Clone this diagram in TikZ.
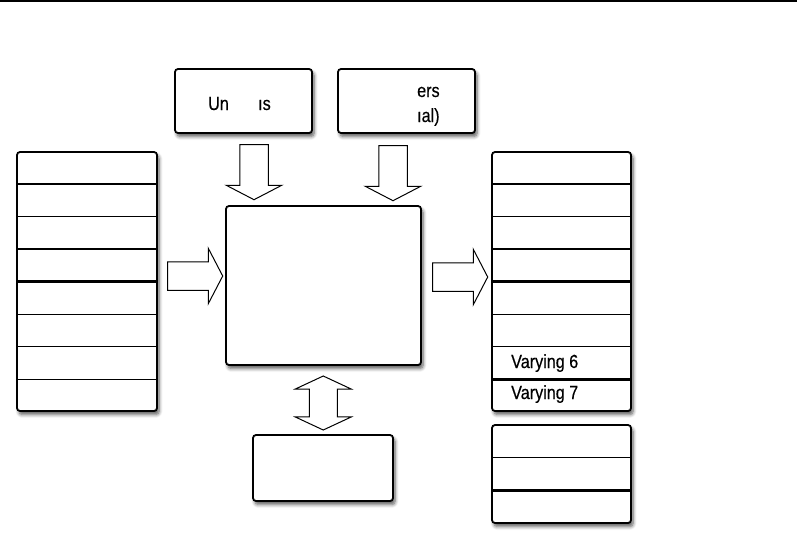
\documentclass[tikz,border=0pt]{standalone}
\usepackage{fontspec}
\setmainfont{Liberation Sans}
\newfontfamily\narrowfont[FakeStretch=0.85,FakeBold=0.4]{Liberation Sans}
\usepackage{tikz}
\usetikzlibrary{shapes.arrows,shadows.blur,calc}

\tikzset{
  box/.style={draw, line width=1.8pt, rounded corners=3pt, fill=white, inner sep=0pt,
    blur shadow={shadow blur steps=6, shadow xshift=2pt, shadow yshift=-3.5pt, shadow opacity=65, shadow blur radius=3.5pt}},
  blockarrow/.style={single arrow, draw, line width=1pt, fill=white, inner sep=13.75pt,
    minimum height=55pt, single arrow head extend=13.5pt, single arrow tip angle=125},
  bothways/.style={double arrow, draw, line width=1pt, fill=white, inner sep=13.5pt,
    minimum height=54pt, double arrow head extend=14pt, double arrow tip angle=130},
  lbl/.style={font=\narrowfont\fontsize{19}{21}\selectfont, inner sep=0pt, anchor=base west},
}

\begin{document}
\begin{tikzpicture}[x=1pt, y=-1pt]
            \useasboundingbox (0,0) rectangle (797,538);
            \draw[line width=1.5pt] (0,0.75) -- (797,0.75);
            % boxes
            \node[box, minimum width=140pt, minimum height=259pt] (attribs) at (87,281.5) {};
            \node[box, minimum width=195pt, minimum height=159pt] (shader) at (323.5,285.5) {};
            \node[box, minimum width=139pt, minimum height=259pt] (varyings) at (561.5,281.5) {};
            \node[box, minimum width=139pt, minimum height=98pt] (extra) at (561.5,474) {};
            \node[box, minimum width=137pt, minimum height=64pt] (uniforms) at (243.5,101) {};
            \node[box, minimum width=137pt, minimum height=64pt] (samplers) at (406.5,101) {};
            \node[box, minimum width=140pt, minimum height=66pt] (texmem) at (323,468) {};
            % rows
            \foreach \i/\lw in {1/2.4,2/1.2,3/1.2,4/2.4,5/1.2,6/1.2,7/1.2}
                \draw[line width=\lw pt] ($(attribs.north west)!\i/8!(attribs.south west)$) -- ($(attribs.north east)!\i/8!(attribs.south east)$);
            \foreach \i/\lw in {1/2.4,2/1.2,3/1.2,4/2.4,5/1.2,6/1.2,7/2.4}
                \draw[line width=\lw pt] ($(varyings.north west)!\i/8!(varyings.south west)$) -- ($(varyings.north east)!\i/8!(varyings.south east)$);
            \foreach \i/\lw in {1/1.2,2/2.4}
                \draw[line width=\lw pt] ($(extra.north west)!\i/3!(extra.south west)$) -- ($(extra.north east)!\i/3!(extra.south east)$);
            % arrows
            \node[blockarrow, yshift=7.5pt] (inarrow) at ($(attribs.east)!0.5!(shader.west)$) {};
            \node[blockarrow, yshift=6.5pt] (outarrow) at ($(shader.east)!0.5!(varyings.west)$) {};
            \node[blockarrow, xshift=10.5pt, yshift=1pt, rotate=-90] (unifarrow) at ($(uniforms.south)!0.5!(uniforms.south |- shader.north)$) {};
            \node[blockarrow, xshift=-13.5pt, rotate=-90] (samparrow) at ($(samplers.south)!0.5!(samplers.south |- shader.north)$) {};
            \node[bothways, yshift=-3pt, rotate=90] (texarrow) at ($(shader.south)!0.5!(texmem.north)$) {};
            % texts
            \node[lbl] (un) at (208,110) {Un};
            \node[lbl] (ms) at (258,110) {ıs};
            \node[lbl] (ers) at (417,97) {ers};
            \node[lbl] (nal) at (417,122) {ıal)};
            \node[lbl] (v6) at (511,368) {Varying 6};
            \node[lbl] (v7) at (511,399) {Varying 7};
\end{tikzpicture}
\end{document}
